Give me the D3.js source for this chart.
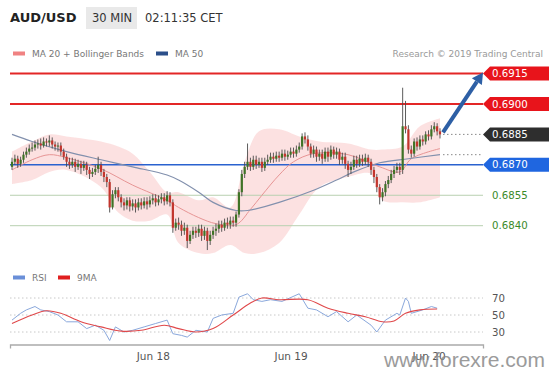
<!DOCTYPE html>
<html>
<head>
<meta charset="utf-8">
<script src="https://cdn.jsdelivr.net/npm/d3@7"></script>
<style>
  body { margin: 0; background: #fff; }
  svg { display: block; font-family: "DejaVu Sans", sans-serif; }
</style>
</head>
<body>
<svg id="chart" width="553" height="375"></svg>
<script>
// AUD/USD 30 min bars, Jun 17 - Jun 20 2019
const firstOpen = 0.6869;
const closes = [
  0.68715, 0.6873, 0.68705, 0.68725, 0.6875, 0.68765, 0.6878, 0.68785, 0.688, 0.68805,
  0.68795, 0.68815, 0.6881, 0.6882, 0.688, 0.6879, 0.68795, 0.68765, 0.6874, 0.68715,
  0.687, 0.68715, 0.6869, 0.68705, 0.68685, 0.687, 0.68675, 0.68655, 0.68665, 0.6868,
  0.687, 0.68665, 0.6864, 0.68615, 0.6849, 0.68555, 0.68575, 0.6854, 0.68515, 0.685,
  0.68525, 0.68495, 0.6851, 0.6849, 0.68515, 0.685, 0.6852, 0.68505, 0.68525, 0.68535,
  0.68515, 0.6853, 0.6854, 0.6852, 0.6855, 0.68515, 0.6839, 0.68415, 0.68405, 0.68375,
  0.6839, 0.68325, 0.68355, 0.68375, 0.68365, 0.68385, 0.6835, 0.68375, 0.68325, 0.68355,
  0.68375, 0.68385, 0.68405, 0.6839, 0.68415, 0.68405, 0.68425, 0.68415, 0.68455, 0.68565,
  0.68655, 0.6869, 0.68715, 0.6869, 0.68725, 0.687, 0.68715, 0.68685, 0.68715, 0.68725,
  0.6874, 0.6873, 0.68745, 0.68735, 0.68755, 0.6874, 0.6875, 0.68765, 0.68755, 0.68775,
  0.6879, 0.6884, 0.68825, 0.6879, 0.68755, 0.68775, 0.6874, 0.68755, 0.6873, 0.68765,
  0.6874, 0.68775, 0.6875, 0.68765, 0.68725, 0.6874, 0.68705, 0.68675, 0.6869, 0.68725,
  0.68705, 0.6873, 0.68715, 0.68735, 0.68715, 0.68675, 0.6864, 0.6859, 0.6854, 0.68565,
  0.68605, 0.68625, 0.68655, 0.68675, 0.6869, 0.68675, 0.6889, 0.68875, 0.68775, 0.68755,
  0.68815, 0.6879, 0.68825, 0.68815, 0.6885, 0.6884, 0.68875, 0.6889, 0.68865, 0.6885
];
const highs = [
  0.68735, 0.6875, 0.68745, 0.6874, 0.68765, 0.68785, 0.688, 0.6881, 0.6882, 0.68825,
  0.6883, 0.68835, 0.6883, 0.68845, 0.68835, 0.68815, 0.6881, 0.6881, 0.6878, 0.68755,
  0.68735, 0.68735, 0.6873, 0.68725, 0.6872, 0.6872, 0.68715, 0.6869, 0.68685, 0.687,
  0.6874, 0.68715, 0.6868, 0.68655, 0.6863, 0.68575, 0.6859, 0.6859, 0.68555, 0.68535,
  0.6854, 0.6854, 0.6853, 0.6853, 0.68535, 0.68535, 0.6854, 0.6854, 0.68545, 0.68555,
  0.68555, 0.6855, 0.6856, 0.6856, 0.6857, 0.68565, 0.6853, 0.68435, 0.6844, 0.68425,
  0.68415, 0.68405, 0.68375, 0.68395, 0.68395, 0.68405, 0.68405, 0.68395, 0.6839, 0.68375,
  0.68395, 0.6841, 0.68425, 0.68425, 0.68435, 0.6844, 0.68445, 0.68445, 0.6847, 0.6858,
  0.68675, 0.68715, 0.68805, 0.68735, 0.68745, 0.68745, 0.68735, 0.68735, 0.68735, 0.6875,
  0.6876, 0.6876, 0.68765, 0.68765, 0.68775, 0.68775, 0.6877, 0.68785, 0.68785, 0.68795,
  0.6881, 0.68855, 0.6886, 0.68845, 0.68805, 0.68795, 0.6879, 0.68775, 0.68775, 0.68785,
  0.68785, 0.68795, 0.6879, 0.68785, 0.6878, 0.6876, 0.6876, 0.6872, 0.68715, 0.68745,
  0.68745, 0.6875, 0.6875, 0.68755, 0.6875, 0.6873, 0.6869, 0.68655, 0.68605, 0.68585,
  0.6862, 0.68645, 0.68675, 0.68695, 0.6871, 0.6871, 0.6908, 0.69015, 0.68895, 0.68795,
  0.6883, 0.68835, 0.68845, 0.68845, 0.68865, 0.6887, 0.68895, 0.6891, 0.68905, 0.6888
];
const lows = [
  0.68675, 0.687, 0.68685, 0.6869, 0.6871, 0.68735, 0.6875, 0.68765, 0.6877, 0.6878,
  0.68775, 0.68785, 0.6879, 0.6879, 0.6878, 0.6877, 0.68765, 0.68745, 0.68725, 0.6869,
  0.6868, 0.68685, 0.68665, 0.68675, 0.68655, 0.6867, 0.6865, 0.6863, 0.6864, 0.6865,
  0.6866, 0.68645, 0.68615, 0.6859, 0.68465, 0.6848, 0.68535, 0.6852, 0.6849, 0.68475,
  0.6848, 0.6847, 0.68475, 0.68465, 0.68475, 0.6848, 0.68485, 0.6848, 0.6849, 0.68505,
  0.68495, 0.685, 0.6851, 0.685, 0.68505, 0.68495, 0.68365, 0.68375, 0.6838, 0.6835,
  0.68355, 0.6829, 0.6831, 0.68335, 0.6834, 0.68345, 0.68325, 0.6833, 0.6828, 0.68305,
  0.68335, 0.6835, 0.68365, 0.6837, 0.68375, 0.68385, 0.68385, 0.68395, 0.68395, 0.6844,
  0.68545, 0.68635, 0.68675, 0.6867, 0.68675, 0.6868, 0.68685, 0.68665, 0.6867, 0.687,
  0.6871, 0.6871, 0.68715, 0.68715, 0.6872, 0.6872, 0.68725, 0.68735, 0.68735, 0.6874,
  0.6876, 0.68775, 0.68805, 0.6877, 0.68735, 0.68735, 0.68715, 0.6872, 0.68705, 0.68715,
  0.68715, 0.68725, 0.6873, 0.6873, 0.687, 0.68705, 0.6868, 0.6864, 0.68655, 0.68675,
  0.68685, 0.6869, 0.68695, 0.687, 0.6869, 0.6865, 0.6861, 0.68565, 0.68505, 0.6852,
  0.68545, 0.68585, 0.6861, 0.68635, 0.6866, 0.6865, 0.68655, 0.68855, 0.68755, 0.68735,
  0.6874, 0.6877, 0.68775, 0.68795, 0.688, 0.6882, 0.68825, 0.6886, 0.68845, 0.6883
];

// indicators, sampled at bar numbers
const ma20Bars = [0, 7, 13, 19, 31, 42, 54, 58, 65, 71, 78, 83, 87, 93, 98, 105, 117, 128, 135, 139, 149];
const ma20 = [0.68675, 0.68725, 0.6875, 0.68735, 0.6868, 0.686, 0.68525, 0.6849, 0.6844, 0.6841, 0.68405,
  0.6848, 0.6855, 0.6865, 0.68715, 0.68755, 0.6875, 0.6869, 0.68665, 0.6873, 0.6878];
const bandBars = [0, 7, 13, 19, 31, 37, 42, 48, 54, 58, 65, 70, 76, 81, 86, 93, 100, 107, 117, 125, 129, 136, 142, 149];
const bandUpper = [0.68765, 0.68815, 0.6885, 0.6884, 0.68815, 0.6879, 0.68755, 0.68665, 0.68565, 0.68565, 0.68525, 0.6854,
  0.6849, 0.68715, 0.68865, 0.68875, 0.6884, 0.68815, 0.68805, 0.68775, 0.68775, 0.6879, 0.6889, 0.6893];
const bandLower = [0.68605, 0.68625, 0.68665, 0.68675, 0.6859, 0.68465, 0.68425, 0.68425, 0.68455, 0.68315, 0.68265, 0.68265,
  0.68305, 0.68265, 0.68265, 0.68315, 0.68455, 0.6859, 0.6864, 0.68655, 0.68525, 0.68515, 0.68515, 0.6854];
const ma50Bars = [0, 7, 19, 31, 42, 54, 58, 65, 70, 78, 82, 93, 105, 113, 119, 128, 138, 149];
const ma50 = [0.6885, 0.68815, 0.68765, 0.68725, 0.6869, 0.6865, 0.68625, 0.68565, 0.68515, 0.68475, 0.68475,
  0.68515, 0.68575, 0.68625, 0.68665, 0.6871, 0.6873, 0.6875];

const rsiBars = [0, 3, 5, 8, 10, 13, 16, 19, 23, 26, 29, 32, 34, 36, 39, 42, 46, 50, 54, 56, 59, 61, 64, 68, 70,
  73, 77, 79, 82, 84, 87, 90, 94, 100, 103, 106, 110, 113, 117, 120, 125, 127, 130, 134, 135, 137, 138, 139, 143, 146, 148];
const rsi = [44, 52, 56, 60, 56, 54, 50, 42, 42, 34, 38, 32, 20, 36, 30, 32, 36, 40, 44, 28, 26, 24, 32, 30, 46,
  50, 52, 71, 75, 68, 66, 68, 66, 75, 58, 56, 48, 54, 42, 50, 38, 30, 44, 52, 50, 70, 66, 52, 56, 60, 58];
const rsiMaBars = [0, 7, 12, 17, 24, 31, 38, 45, 53, 58, 64, 70, 77, 83, 87, 93, 103, 110, 117, 123, 129, 133, 137, 142, 148];
const rsiMa = [40, 50, 55, 52, 42, 36, 31, 32, 38, 34, 30, 34, 50, 64, 70, 68, 68, 58, 52, 48, 42, 43, 52, 56, 57];

const resistLevels = [0.6915, 0.6900];
const lastPrice = 0.6885;
const pivotLevel = 0.6870;
const supportLevels = [0.6855, 0.6840];
const rsiTicks = [30, 50, 70];
const dayBars = [49, 97, 145];
const dayLabels = ["Jun 18", "Jun 19", "Jun 20"];

const svg = d3.select("#chart");
const left = 10, right = 483;

const x = d3.scaleLinear().domain([0, closes.length - 1]).range([12, 440]);
const y = d3.scaleLinear().domain([0.6840, 0.6915]).range([225.7, 73.5]);
const ry = d3.scaleLinear().domain([30, 70]).range([332, 298]);

// ---- header
svg.append("text").attr("x", 10).attr("y", 22)
  .attr("font-size", 13).attr("font-weight", "bold").attr("fill", "#222").text("AUD/USD");
svg.append("rect").attr("x", 86).attr("y", 7).attr("width", 51).attr("height", 22).attr("fill", "#e9e9e9");
svg.append("text").attr("x", 92).attr("y", 22).attr("font-size", 11.5).attr("fill", "#333").text("30 MIN");
svg.append("text").attr("x", 145).attr("y", 22).attr("font-size", 11.5).attr("fill", "#333").text("02:11:35 CET");

// ---- legend
const legend = [{ label: "MA 20 + Bollinger Bands", color: "#f08282", x: 13 }, { label: "MA 50", color: "#2b4f8a", x: 156 }];
legend.forEach(d => {
  svg.append("rect").attr("x", d.x).attr("y", 51.5).attr("width", 12).attr("height", 4).attr("fill", d.color);
  svg.append("text").attr("x", d.x + 19).attr("y", 57).attr("font-size", 9).attr("fill", "#777").text(d.label);
});
svg.append("text").attr("x", 543).attr("y", 57).attr("text-anchor", "end")
  .attr("font-size", 9).attr("fill", "#999").text("Research \u00a9 2019 Trading Central");

// ---- bollinger band + MAs
const band = bandBars.map((b, i) => ({ b, hi: bandUpper[i], lo: bandLower[i] }));
svg.append("path").datum(band)
  .attr("d", d3.area().curve(d3.curveCatmullRom).x(d => x(d.b)).y0(d => y(d.lo)).y1(d => y(d.hi)))
  .attr("fill", "#fbdcdc").attr("opacity", 0.85);

// level lines
const hline = (p, color, w, x0, dash) => svg.append("line")
  .attr("x1", x0).attr("x2", right).attr("y1", y(p)).attr("y2", y(p))
  .attr("stroke", color).attr("stroke-width", w).attr("stroke-dasharray", dash || null);
supportLevels.forEach(p => hline(p, "#b8d0b0", 1, left));
hline(pivotLevel, "#2a62cf", 1.5, left);
resistLevels.forEach(p => hline(p, "#e32626", 2, left));
hline(lastPrice, "#888", 1, 443, "1.5,2.5");
hline(ma50[ma50.length - 1], "#888", 1, 443, "1.5,2.5");

const line = d3.line().curve(d3.curveCatmullRom).x(d => x(d[0])).y(d => y(d[1]));
svg.append("path").datum(ma20Bars.map((b, i) => [b, ma20[i]]))
  .attr("d", line).attr("fill", "none").attr("stroke", "#e79595").attr("stroke-width", 1);
svg.append("path").datum(ma50Bars.map((b, i) => [b, ma50[i]]))
  .attr("d", line).attr("fill", "none").attr("stroke", "#8290ad").attr("stroke-width", 1.2);

// ---- candles
const bars = closes.map((c, i) => ({ i, o: i ? closes[i - 1] : firstOpen, c, h: highs[i], l: lows[i] }));
const cg = svg.append("g");
cg.selectAll("line").data(bars).join("line")
  .attr("x1", d => x(d.i)).attr("x2", d => x(d.i))
  .attr("y1", d => y(d.h)).attr("y2", d => y(d.l))
  .attr("stroke", "#4a4a4a").attr("stroke-width", 0.9);
cg.selectAll("rect").data(bars).join("rect")
  .attr("x", d => x(d.i) - 1.1).attr("width", 2.2)
  .attr("y", d => y(Math.max(d.o, d.c)))
  .attr("height", d => Math.max(1, Math.abs(y(d.o) - y(d.c))))
  .attr("fill", d => d.c >= d.o ? "#3f7326" : "#c3352d");

// ---- forecast arrow
const last = bars[bars.length - 1];
const ax0 = x(last.i) + 3, ay0 = y(last.c) - 2, ax1 = right, ay1 = y(resistLevels[0]) - 1;
const ang = Math.atan2(ay1 - ay0, ax1 - ax0);
const hx = ax1 - 11 * Math.cos(ang), hy = ay1 - 11 * Math.sin(ang);
svg.append("line").attr("x1", ax0).attr("y1", ay0).attr("x2", hx).attr("y2", hy)
  .attr("stroke", "#2d5fa5").attr("stroke-width", 4);
svg.append("path").attr("fill", "#2d5fa5")
  .attr("d", `M${ax1},${ay1} L${hx + 6 * Math.sin(ang)},${hy - 6 * Math.cos(ang)} L${hx - 6 * Math.sin(ang)},${hy + 6 * Math.cos(ang)} Z`);

// ---- price tags
const tags = [
  { p: resistLevels[0], fill: "#e8141b" }, { p: resistLevels[1], fill: "#e8141b" },
  { p: lastPrice, fill: "#2e2e2e" }, { p: pivotLevel, fill: "#1f66e0" }
];
tags.forEach(t => {
  const ty = y(t.p);
  svg.append("path").attr("fill", t.fill)
    .attr("d", `M${right},${ty} L${right + 7},${ty - 7} L549,${ty - 7} L549,${ty + 7} L${right + 7},${ty + 7} Z`);
  svg.append("text").attr("x", 492).attr("y", ty + 3.6).attr("font-size", 10.2)
    .attr("fill", "#fff").text(d3.format(".4f")(t.p));
});
supportLevels.forEach(p => {
  svg.append("text").attr("x", 492).attr("y", y(p) + 3.6).attr("font-size", 10.2)
    .attr("fill", "#3a8a2a").text(d3.format(".4f")(p));
});

// ---- RSI panel
const rl = [{ label: "RSI", color: "#6a8fd8", x: 13 }, { label: "9MA", color: "#e01f1f", x: 58 }];
rl.forEach(d => {
  svg.append("rect").attr("x", d.x).attr("y", 275.5).attr("width", 12).attr("height", 4).attr("fill", d.color);
  svg.append("text").attr("x", d.x + 19).attr("y", 281).attr("font-size", 9).attr("fill", "#777").text(d.label);
});
rsiTicks.forEach(v => {
  svg.append("line").attr("x1", left).attr("x2", right).attr("y1", ry(v)).attr("y2", ry(v))
    .attr("stroke", "#c8c8c8").attr("stroke-dasharray", "1.5,2.5");
  svg.append("text").attr("x", 492).attr("y", ry(v) + 3.6).attr("font-size", 10.2).attr("fill", "#555").text(v);
});
const rline = d3.line().x(d => x(d[0])).y(d => ry(d[1]));
svg.append("path").datum(rsiBars.map((b, i) => [b, rsi[i]]))
  .attr("d", rline).attr("fill", "none").attr("stroke", "#8aa8dc").attr("stroke-width", 1);
svg.append("path").datum(rsiMaBars.map((b, i) => [b, rsiMa[i]]))
  .attr("d", rline.curve(d3.curveCatmullRom)).attr("fill", "none").attr("stroke", "#e0484a").attr("stroke-width", 1.1);

// ---- time axis
const xAxisScale = x.copy().domain([x.invert(left), x.invert(right)]).range([left, right]);
const ax = svg.append("g").attr("transform", "translate(0,344.5)")
  .call(d3.axisBottom(xAxisScale).tickValues(dayBars).tickSize(0).tickSizeOuter(4).tickPadding(8)
    .tickFormat((d, i) => dayLabels[i]));
ax.select(".domain").attr("stroke", "#aaa").attr("stroke-width", 1.3);
ax.selectAll("text").attr("font-family", "DejaVu Sans").attr("font-size", 10.5).attr("fill", "#555");

// watermark
svg.append("text").attr("x", 545).attr("y", 367).attr("text-anchor", "end")
  .attr("font-family", "Liberation Sans, Arial, sans-serif").attr("font-size", 21)
  .attr("fill", "#8a8a8a").attr("opacity", 0.85).text("www.forexre.com");
</script>
</body>
</html>
